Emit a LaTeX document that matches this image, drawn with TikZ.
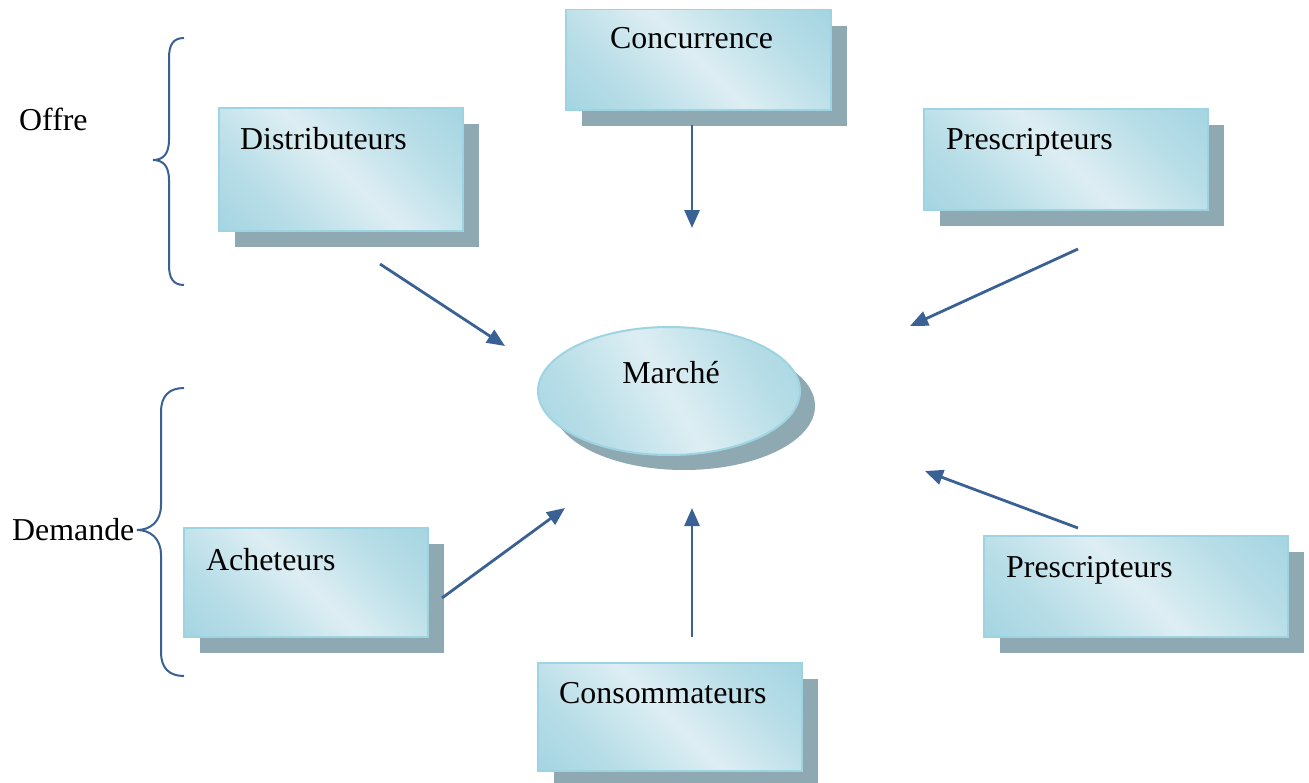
\documentclass[tikz,border=0pt]{standalone}
\usepackage{fontspec}
\setmainfont{Liberation Serif}
\usetikzlibrary{shapes.geometric,shadows,arrows.meta}

\definecolor{boxblue}{HTML}{92CDDC}
\definecolor{boxlight}{HTML}{DDEEF3}
\definecolor{boxedge}{HTML}{9ED4E1}
\definecolor{shadowc}{HTML}{8FA9B2}
\definecolor{linkblue}{HTML}{3A6194}

\pgfdeclarehorizontalshading{glossy}{100bp}{%
  color(0bp)=(boxblue); color(30bp)=(boxblue!50!boxlight);
  color(50bp)=(boxlight); color(70bp)=(boxblue!50!boxlight);
  color(100bp)=(boxblue)}

\tikzset{
  actor/.style={rectangle, inner sep=0pt, anchor=north west,
    draw=boxedge, line width=1.5bp, shading=glossy, shading angle=45,
    drop shadow={shadow xshift=16bp, shadow yshift=-16bp, fill=shadowc, opacity=1}},
  market/.style={ellipse, inner sep=0pt, draw=boxedge, line width=2bp,
    shading=glossy, shading angle=30,
    drop shadow={shadow xshift=15bp, shadow yshift=-15bp, fill=shadowc, opacity=1}},
  caption/.style={anchor=base west, inner sep=0pt, font=\fontsize{32}{38}\selectfont},
  flow/.style={draw=linkblue, line width=2.8bp, -{Triangle[length=18bp,width=15bp]}},
  bracket/.style={draw=linkblue, line width=2bp}
}

\begin{document}
\begin{tikzpicture}[x=1bp, y=-1bp]
\useasboundingbox (0,0) rectangle (1309,782);

% actor boxes
\node[actor, minimum width=244bp, minimum height=123bp] (dist) at (218,107) {};
\node[actor, minimum width=265bp, minimum height=100bp] (conc) at (565,9) {};
\node[actor, minimum width=284bp, minimum height=101bp] (presA) at (923,108) {};
\node[actor, minimum width=244bp, minimum height=109bp] (ach) at (183,527) {};
\node[actor, minimum width=264bp, minimum height=108bp] (cons) at (537,662) {};
\node[actor, minimum width=304bp, minimum height=101bp] (presB) at (983,535) {};

% central market
\node[market, minimum width=262bp, minimum height=128bp] (marche) at (669,391) {};

% box captions
\node[caption] (tdist) at (240,149) {Distributeurs};
\node[caption] (tconc) at (610,49) {Concurrence};
\node[caption] (tpresA) at (946,149) {Prescripteurs};
\node[caption] (tach) at (206,570) {Acheteurs};
\node[caption] (tcons) at (559,703) {Consommateurs};
\node[caption] (tpresB) at (1006,577) {Prescripteurs};
\node[caption, anchor=base] (tmarche) at (671,383) {Marché};

% side labels
\node[caption] (offre) at (19,130) {Offre};
\node[caption] (demande) at (12,540) {Demande};

% arrow end points
\coordinate (d1) at (380,264);  \coordinate (d2) at (505,346);
\coordinate (c1) at (692,125);  \coordinate (c2) at (692,228);
\coordinate (p1) at (1078,249); \coordinate (p2) at (910,326);
\coordinate (q1) at (1078,528); \coordinate (q2) at (925,471);
\coordinate (s1) at (692,637);  \coordinate (s2) at (692,508);
\coordinate (a1) at (442,598);  \coordinate (a2) at (565,508);

\draw[flow] (d1) -- (d2);
\draw[flow] (c1) -- (c2);
\draw[flow] (p1) -- (p2);
\draw[flow] (q1) -- (q2);
\draw[flow] (s1) -- (s2);
\draw[flow] (a1) -- (a2);

% braces
\draw[bracket] (184,38) .. controls (173,38) and (169,45) .. (169,58) -- (169,140)
  .. controls (169,154) and (163,160) .. (153,160)
  .. controls (163,160) and (169,166) .. (169,180) -- (169,265)
  .. controls (169,278) and (173,285) .. (184,285);
\draw[bracket] (184,388) .. controls (169,388) and (161,396) .. (161,412) -- (161,505)
  .. controls (161,522) and (150,530) .. (137,530)
  .. controls (150,530) and (161,538) .. (161,555) -- (161,652)
  .. controls (161,668) and (169,676) .. (184,676);
\end{tikzpicture}
\end{document}
